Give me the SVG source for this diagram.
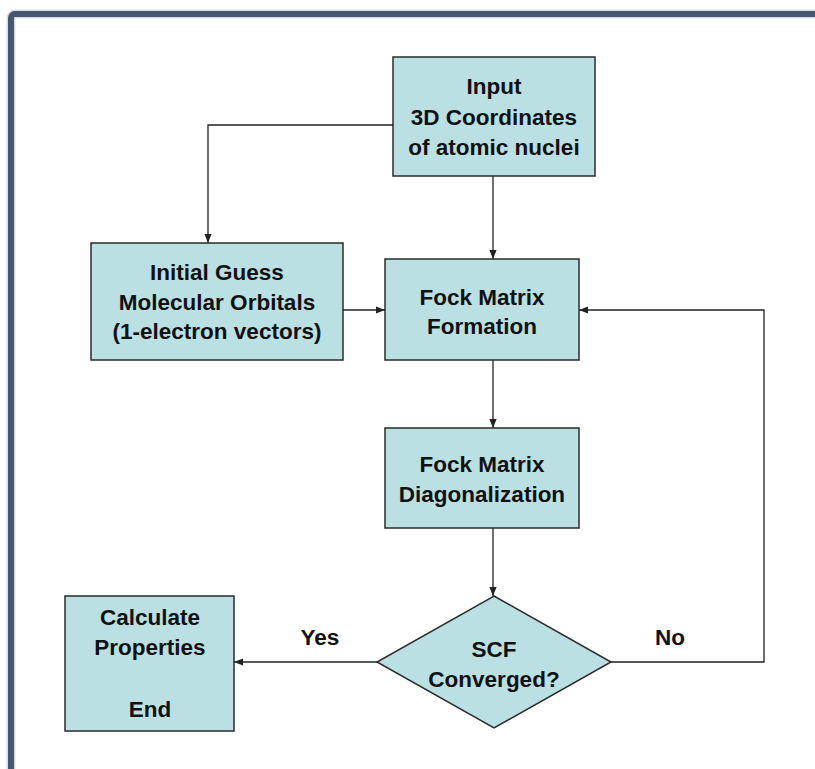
<svg xmlns="http://www.w3.org/2000/svg" width="815" height="769" viewBox="0 0 815 769">
<defs>
<style>
.box{fill:#bbe0e3;stroke:#2b2b2b;stroke-width:1.5}
.t{font-family:"Liberation Sans",Arial,sans-serif;font-weight:bold;font-size:22.5px;fill:#111;text-anchor:middle}
.c{fill:none;stroke:#222;stroke-width:1.3}
</style>
<marker id="ah" viewBox="0 0 10 10" refX="10" refY="5" markerWidth="9" markerHeight="9" markerUnits="userSpaceOnUse" orient="auto">
<path d="M0,1 L10,5 L0,9 z" fill="#222"/>
</marker>
</defs>
<rect width="815" height="769" fill="#ffffff"/>
<rect x="11" y="14" width="900" height="900" rx="4" fill="none" stroke="#d8dbe0" stroke-width="9"/>
<rect x="11" y="14" width="900" height="900" rx="4" fill="none" stroke="#465870" stroke-width="6"/>
<g id="connectors">
<path class="c" d="M393,125 H208 V243" marker-end="url(#ah)"/>
<path class="c" d="M493,176 V259" marker-end="url(#ah)"/>
<path class="c" d="M343,310 H385" marker-end="url(#ah)"/>
<path class="c" d="M493,360 V428" marker-end="url(#ah)"/>
<path class="c" d="M493,528 V596" marker-end="url(#ah)"/>
<path class="c" d="M611,662 H764 V310 H579" marker-end="url(#ah)"/>
<path class="c" d="M377,662 H234" marker-end="url(#ah)"/>
<text class="t" x="320" y="645">Yes</text>
<text class="t" x="670" y="645">No</text>
</g>
<g id="input">
<rect class="box" x="393" y="57" width="202" height="119"/>
<text class="t" x="494" y="94">Input</text>
<text class="t" x="494" y="125">3D Coordinates</text>
<text class="t" x="494" y="155">of atomic nuclei</text>
</g>
<g id="guess">
<rect class="box" x="91" y="243" width="252" height="117"/>
<text class="t" x="217" y="280">Initial Guess</text>
<text class="t" x="217" y="310">Molecular Orbitals</text>
<text class="t" x="217" y="339">(1-electron vectors)</text>
</g>
<g id="formation">
<rect class="box" x="385" y="259" width="194" height="101"/>
<text class="t" x="482" y="305">Fock Matrix</text>
<text class="t" x="482" y="334">Formation</text>
</g>
<g id="diagonalization">
<rect class="box" x="385" y="428" width="194" height="100"/>
<text class="t" x="482" y="472">Fock Matrix</text>
<text class="t" x="482" y="502">Diagonalization</text>
</g>
<g id="converged">
<polygon class="box" points="494,596 611,662 494,728 377,662"/>
<text class="t" x="494" y="657">SCF</text>
<text class="t" x="494" y="687">Converged?</text>
</g>
<g id="calculate">
<rect class="box" x="65" y="596" width="169" height="135"/>
<text class="t" x="150" y="625">Calculate</text>
<text class="t" x="150" y="655">Properties</text>
<text class="t" x="150" y="717">End</text>
</g>
</svg>
